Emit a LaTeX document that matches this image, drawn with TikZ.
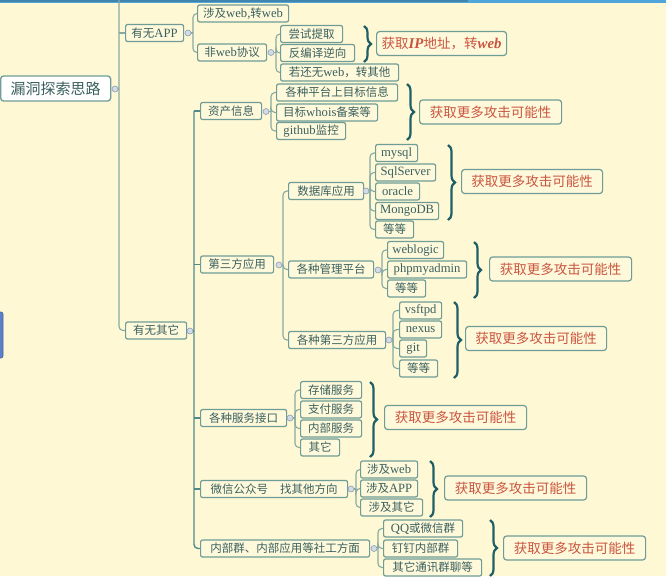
\documentclass[tikz,border=0pt]{standalone}
\usepackage{fontspec}
\setmainfont{Noto Sans CJK SC}
\newfontfamily\latfont[Scale=1.1]{Liberation Serif}
\newcommand\lat[1]{{\latfont #1}}
\usetikzlibrary{decorations.pathreplacing}
\definecolor{bg}{HTML}{FFF8D4}
\definecolor{boxfill}{HTML}{FFF9DC}
\definecolor{boxline}{HTML}{6E9C96}
\definecolor{txt}{HTML}{3A605E}
\definecolor{redtxt}{HTML}{C9553E}
\definecolor{conn}{HTML}{86AAA2}
\definecolor{trunk}{HTML}{4F8A8A}
\definecolor{bracec}{HTML}{1F5F68}
\definecolor{topblue}{HTML}{4FA6DA}
\definecolor{leftblue}{HTML}{5B7FC8}
\definecolor{dotfill}{HTML}{D3DBE6}
\definecolor{dotline}{HTML}{8C9DB0}
\begin{document}
\begin{tikzpicture}[x=1pt,y=-1pt,
  box/.style={draw=boxline,fill=boxfill,line width=1.2pt,rounded corners=2pt,
    text=txt,font=\fontsize{11.5}{13}\selectfont,inner sep=1pt,minimum height=17pt,anchor=west},
  rootbox/.style={draw=boxline,fill=white,line width=1.3pt,rounded corners=3pt,
    text=txt,font=\fontsize{15}{17}\selectfont,inner sep=1pt,minimum height=25pt,anchor=west},
  redbox/.style={draw=boxline,fill=boxfill,line width=1.2pt,rounded corners=3pt,
    text=redtxt,font=\fontsize{13.5}{15}\selectfont,inner sep=1pt,minimum height=24pt,anchor=west},
  dot/.style={circle,draw=dotline,fill=dotfill,line width=0.6pt,minimum size=6pt,inner sep=0pt},
  cn/.style={draw=conn,line width=1.1pt,rounded corners=4pt},
  tk/.style={draw=trunk,line width=1.4pt,rounded corners=4pt},
  br/.style={draw=bracec,line width=2.2pt,decorate,decoration={brace,amplitude=7pt}}]
\useasboundingbox (0,0) rectangle (666,576);
\fill[bg] (0,0) rectangle (666,576);
\fill[topblue] (0,0) rectangle (666,2.5);
\fill[topblue!80!black] (0,0) rectangle (468,1.5);
\draw[leftblue!80!black,fill=leftblue,line width=0.6pt,rounded corners=2pt] (-6,312) rectangle (3,358);

% root and level 1
\node[rootbox,minimum width=110pt] (root) at (0,88.5) {漏洞探索思路};
\node[dot] (croot) at (115,89) {};
\node[box,minimum width=58pt] (app) at (125,33) {有无\lat{APP}};
\node[dot] (capp) at (188,33) {};
\node[box,minimum width=61pt] (other) at (125,330.5) {有无其它};
\node[dot] (cother) at (190,331) {};
\coordinate (ttop) at (119,0);
\coordinate (troot) at (119,89);
\coordinate (tapp) at (119,33);
\draw[cn] (croot) -- (troot);
\draw[cn] (ttop) |- (other.west);
\draw[cn] (tapp) -- (app.west);

% APP branch
\node[box,minimum width=91pt] (web1) at (197,13.5) {涉及\lat{web,}转\lat{web}};
\node[box,minimum width=69pt] (nonweb) at (197,52.5) {非\lat{web}协议};
\node[dot] (cnonweb) at (271,52.5) {};
\coordinate (bapp) at (193,33);
\draw[cn] (capp) -- (bapp);
\draw[cn] (bapp) |- (web1.west);
\draw[cn] (bapp) |- (nonweb.west);
\node[box,minimum width=62pt] (try) at (280,34) {尝试提取};
\node[box,minimum width=74pt] (decomp) at (280,53) {反编译逆向};
\node[box,minimum width=118pt] (ifno) at (280,72.5) {若还无\lat{web}，转其他};
\coordinate (bnonweb) at (276,52.5);
\draw[cn] (cnonweb) -- (bnonweb);
\draw[cn] (bnonweb) |- (try.west);
\draw[cn] (bnonweb) |- (decomp.west);
\draw[cn] (bnonweb) |- (ifno.west);
\coordinate (br1a) at (364,26);
\coordinate (br1b) at (364,62);
\draw[br] (br1a) -- (br1b);
\node[redbox,minimum width=130pt] (red1) at (376,43.5) {获取\lat{\textbf{\textit{IP}}}地址，转\lat{\textbf{\textit{web}}}};

% other branch trunk
\coordinate (bother) at (194,331);
\coordinate (btop) at (194,111);
\draw[tk] (cother) -- (bother);

\node[box,minimum width=61pt] (asset) at (200,111) {资产信息};
\node[box,minimum width=73pt] (third) at (200,264.5) {第三方应用};
\node[box,minimum width=86pt] (svc) at (200,418) {各种服务接口};
\node[box,minimum width=147pt] (wechat) at (200,489) {微信公众号\hspace{12pt}找其他方向};
\node[box,minimum width=169pt] (group) at (200,548.5) {内部群、内部应用等社工方面};
\draw[tk] (btop) -- (asset.west);
\draw[tk] (btop) |- (group.west);
\draw[tk] (194,264.5) -- (third.west);
\draw[tk] (194,418) -- (svc.west);
\draw[tk] (194,489) -- (wechat.west);

% asset
\node[dot] (casset) at (266,111.5) {};
\coordinate (basset) at (271,111.5);
\node[box,minimum width=121pt] (plat) at (276,92.5) {各种平台上目标信息};
\node[box,minimum width=101pt] (whois) at (276,112.5) {目标\lat{whois}备案等};
\node[box,minimum width=69pt] (github) at (276,131) {\lat{github}监控};
\draw[cn] (casset) -- (basset);
\draw[cn] (basset) |- (plat.west);
\draw[cn] (basset) |- (whois.west);
\draw[cn] (basset) |- (github.west);
\coordinate (br2a) at (407,84);
\coordinate (br2b) at (407,140);
\draw[br] (br2a) -- (br2b);
\node[redbox,minimum width=142pt] (red2) at (419,112) {获取更多攻击可能性};

% third party
\node[dot] (cthird) at (279,265) {};
\coordinate (bthird) at (283,265);
\node[box,minimum width=75pt] (db) at (288,191) {数据库应用};
\node[box,minimum width=85pt] (mgmt) at (288,269.5) {各种管理平台};
\node[box,minimum width=97pt] (third2) at (288,340) {各种第三方应用};
\draw[cn] (cthird) -- (bthird);
\draw[cn] (bthird) |- (db.west);
\draw[cn] (bthird) |- (mgmt.west);
\draw[cn] (bthird) |- (third2.west);

% database
\node[dot] (cdb) at (366,191) {};
\coordinate (bdb) at (370,191);
\node[box,minimum width=42pt] (mysql) at (375,153) {\lat{mysql}};
\node[box,minimum width=60pt] (sqls) at (375,172.5) {\lat{SqlServer}};
\node[box,minimum width=44pt] (oracle) at (375,191.5) {\lat{oracle}};
\node[box,minimum width=63pt] (mongo) at (375,211) {\lat{MongoDB}};
\node[box,minimum width=38pt] (etc1) at (375,229.5) {等等};
\draw[cn] (cdb) -- (bdb);
\foreach \n in {mysql,sqls,oracle,mongo,etc1} \draw[cn] (bdb) |- (\n.west);
\coordinate (br3a) at (448,145);
\coordinate (br3b) at (448,220);
\draw[br] (br3a) -- (br3b);
\node[redbox,minimum width=141pt] (red3) at (461,181.5) {获取更多攻击可能性};

% management
\node[dot] (cmgmt) at (378,270) {};
\coordinate (bmgmt) at (382,270);
\node[box,minimum width=56pt] (weblogic) at (387,250) {\lat{weblogic}};
\node[box,minimum width=79pt] (phpmy) at (387,269.5) {\lat{phpmyadmin}};
\node[box,minimum width=38pt] (etc2) at (387,288.5) {等等};
\draw[cn] (cmgmt) -- (bmgmt);
\foreach \n in {weblogic,phpmy,etc2} \draw[cn] (bmgmt) |- (\n.west);
\coordinate (br4a) at (474,242);
\coordinate (br4b) at (474,298);
\draw[br] (br4a) -- (br4b);
\node[redbox,minimum width=142pt] (red4) at (489,269) {获取更多攻击可能性};

% third party apps
\node[dot] (cthird2) at (389,340) {};
\coordinate (bthird2) at (393,340);
\node[box,minimum width=42pt] (vsftpd) at (399,310.5) {\lat{vsftpd}};
\node[box,minimum width=42pt] (nexus) at (399,329.5) {\lat{nexus}};
\node[box,minimum width=27pt] (git) at (399,348.5) {\lat{git}};
\node[box,minimum width=38pt] (etc3) at (399,368.5) {等等};
\draw[cn] (cthird2) -- (bthird2);
\foreach \n in {vsftpd,nexus,git,etc3} \draw[cn] (bthird2) |- (\n.west);
\coordinate (br5a) at (454,302);
\coordinate (br5b) at (454,378);
\draw[br] (br5a) -- (br5b);
\node[redbox,minimum width=141pt] (red5) at (465,338.5) {获取更多攻击可能性};

% services
\node[dot] (csvc) at (290,418) {};
\coordinate (bsvc) at (295,418);
\node[box,minimum width=61pt] (store) at (300,390) {存储服务};
\node[box,minimum width=61pt] (pay) at (300,409.5) {支付服务};
\node[box,minimum width=61pt] (inner) at (300,428.5) {内部服务};
\node[box,minimum width=39pt] (sother) at (300,447.5) {其它};
\draw[cn] (csvc) -- (bsvc);
\foreach \n in {store,pay,inner,sother} \draw[cn] (bsvc) |- (\n.west);
\coordinate (br6a) at (370,382);
\coordinate (br6b) at (370,457);
\draw[br] (br6a) -- (br6b);
\node[redbox,minimum width=142pt] (red6) at (384,417.5) {获取更多攻击可能性};

% wechat
\node[dot] (cwechat) at (351,489) {};
\coordinate (bwechat) at (356,489);
\node[box,minimum width=57pt] (wweb) at (360,469.5) {涉及\lat{web}};
\node[box,minimum width=57pt] (wapp) at (360,488.5) {涉及\lat{APP}};
\node[box,minimum width=62pt] (wother) at (360,507.5) {涉及其它};
\draw[cn] (cwechat) -- (bwechat);
\foreach \n in {wweb,wapp,wother} \draw[cn] (bwechat) |- (\n.west);
\coordinate (br7a) at (430,461);
\coordinate (br7b) at (430,517);
\draw[br] (br7a) -- (br7b);
\node[redbox,minimum width=142pt] (red7) at (444,488) {获取更多攻击可能性};

% groups
\node[dot] (cgroup) at (374,548.5) {};
\coordinate (bgroup) at (378,548.5);
\node[box,minimum width=79pt] (qq) at (383,528.5) {\lat{QQ}或微信群};
\node[box,minimum width=74pt] (ding) at (383,548.5) {钉钉内部群};
\node[box,minimum width=98pt] (chat) at (383,567.5) {其它通讯群聊等};
\draw[cn] (cgroup) -- (bgroup);
\foreach \n in {qq,ding,chat} \draw[cn] (bgroup) |- (\n.west);
\coordinate (br8a) at (490,520);
\coordinate (br8b) at (490,576);
\draw[br] (br8a) -- (br8b);
\node[redbox,minimum width=142pt] (red8) at (503,548) {获取更多攻击可能性};
\end{tikzpicture}
\end{document}
